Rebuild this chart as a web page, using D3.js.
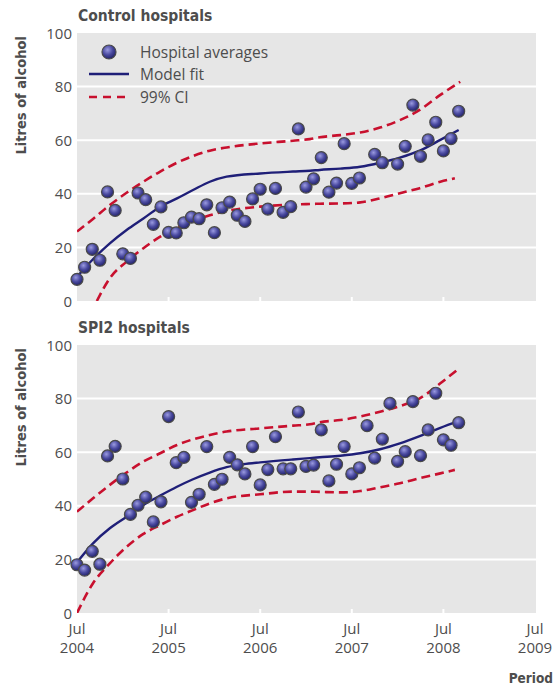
<!DOCTYPE html>
<html>
<head>
<meta charset="utf-8">
<script src="https://cdn.jsdelivr.net/npm/d3@7"></script>
<style>
  body { margin: 0; background: #fff; }
  svg text { fill: #4d4d4d; }
</style>
</head>
<body>
<div id="chart"></div>
<script>
// months counted from Jul 2004
const tickMonths = [0, 12, 24, 36, 48, 60];
const tickYears = ["2004", "2005", "2006", "2007", "2008", "2009"];
const yTicks = [0, 20, 40, 60, 80, 100];

// monthly hospital averages (null = no point shown)
const controlAvg = [8.1, 12.6, 19.3, 15.2, 40.7, 33.8, 17.6, 15.9, 40.3, 37.8,
  28.6, 35.1, 25.6, 25.4, 29.2, 31.3, 30.7, 35.9, 25.5, 34.8,
  36.9, 32.0, 29.7, 38.1, 41.7, 34.3, 42.0, 33.1, 35.2, 64.2,
  42.5, 45.6, 53.5, 40.6, 44.0, 58.7, 43.9, 45.9, null, 54.7,
  51.6, null, 51.1, 57.7, 73.1, 54.0, 60.1, 66.7, 56.0, 60.6, 70.8];
const spi2Avg = [18.0, 16.0, 23.0, 18.2, 58.6, 62.2, 50.0, 36.8, 40.2, 43.2,
  34.0, 41.5, 73.3, 56.1, 58.1, 41.3, 44.3, 62.1, 48.0, 49.9,
  58.1, 55.3, 51.9, 62.1, 47.8, 53.5, 65.8, 53.8, 53.8, 75.0,
  54.7, 55.2, 68.3, 49.3, 55.5, 62.1, 51.9, 54.2, 69.9, 57.8,
  64.9, 78.2, 56.6, 60.2, 78.9, 58.7, 68.3, 82.0, 64.6, 62.6, 71.0];

// model fit and 99% CI as [month, value]
const controlFit = [[0, 9], [2, 15.3], [4.3, 21.5], [6.5, 26.5], [8.7, 30.8], [10.9, 35.2], [13.1, 38.3],
  [15.2, 41.4], [17.4, 44.5], [19.6, 46.4], [24, 47.6], [28.3, 48.3], [30.5, 48.6], [31.8, 48.9],
  [34.5, 49.4], [37.1, 50.1], [39.7, 51.6], [42.3, 53.5], [44.9, 56.1], [47.6, 60.1], [50, 63.8]];
const controlUpper = [[0, 25.9], [2.1, 30.6], [4.3, 35.8], [6.5, 40.4], [8.7, 44.5], [10.9, 48.3], [13.1, 51.6],
  [15.2, 54.1], [17.4, 56.1], [19.6, 57.3], [24, 58.8], [28.3, 59.8], [30.5, 60.4], [31.8, 61.1],
  [34.5, 61.9], [37.1, 62.9], [39.7, 64.7], [42.3, 67.5], [44.9, 71.3], [47.6, 76.9], [50.2, 81.8]];
const controlLower = [[2.6, 0], [4.3, 8.5], [6.5, 14.7], [8.7, 19.7], [10.9, 24.0], [13.1, 27.1],
  [15.2, 29.9], [17.4, 32.0], [19.6, 33.6], [24, 35.2], [28.3, 36.0], [30.5, 36.2], [31.8, 36.3],
  [34.5, 36.4], [37.1, 36.8], [39.7, 38.3], [42.3, 40.2], [44.9, 42.1], [47.6, 44.5], [49.5, 45.8]];

const spi2Fit = [[0, 18.9], [2.1, 26.0], [4.3, 31.6], [6.5, 35.9], [8.7, 40.3], [10.9, 43.8], [13.1, 47.1],
  [15.2, 49.9], [17.4, 52.4], [19.6, 54.4], [21.8, 55.5], [24, 56.2], [28.3, 57.3], [30.5, 57.8],
  [31.8, 58.1], [34.5, 58.7], [37.1, 59.6], [39.7, 61.1], [42.3, 63.3], [44.9, 66.0], [47.6, 69.1], [50, 71.6]];
const spi2Upper = [[0, 37.8], [2.1, 42.8], [4.3, 47.8], [6.5, 52.4], [8.7, 56.5], [10.9, 59.6], [13.1, 62.7],
  [15.2, 64.8], [17.4, 66.4], [19.6, 67.7], [24, 68.9], [28.3, 69.9], [30.5, 70.4], [31.8, 71.2],
  [34.5, 72.0], [37.1, 73.3], [39.7, 75.1], [42.3, 77.2], [44.9, 80.1], [47.6, 85.7], [49.8, 90.7]];
const spi2Lower = [[0, 0], [2.1, 11.1], [4.3, 18.5], [6.5, 24.7], [8.7, 29.5], [10.9, 32.8], [13.1, 35.9],
  [15.2, 38.4], [17.4, 40.9], [19.6, 42.8], [24, 44.3], [28.3, 45.3], [30.5, 45.3], [31.8, 45.2],
  [34.5, 45.0], [37.1, 45.5], [39.7, 46.9], [42.3, 48.4], [44.9, 50.3], [47.6, 52.1], [49.5, 53.4]];

const panels = [
  { title: "Control hospitals", top: 33, avg: controlAvg, fit: controlFit, upper: controlUpper, lower: controlLower, legend: true },
  { title: "SPI2 hospitals", top: 345, avg: spi2Avg, fit: spi2Fit, upper: spi2Upper, lower: spi2Lower, legend: false }
];

const width = 555, height = 688;
const left = 77, right = 536, plotH = 268;
const blue = "#1f1f78", red = "#c8102e";
const labelFont = "'Open Sans', 'Noto Sans', sans-serif";
const boldFont = "'DejaVu Sans Condensed', 'DejaVu Sans', sans-serif";

const svg = d3.select("#chart").append("svg")
  .attr("width", width)
  .attr("height", height);

// shiny sphere for the points
const grad = svg.append("defs").append("radialGradient")
  .attr("id", "ball").attr("cx", "40%").attr("cy", "35%").attr("r", "65%");
grad.append("stop").attr("offset", "0%").attr("stop-color", "#9a9ae0");
grad.append("stop").attr("offset", "55%").attr("stop-color", "#4a4aa0");
grad.append("stop").attr("offset", "100%").attr("stop-color", "#23236a");

const x = d3.scaleLinear().domain([0, 60]).range([left, 535]);

panels.forEach(function (p, i) {
  const y = d3.scaleLinear().domain([0, 100]).range([p.top + plotH, p.top]);
  const g = svg.append("g");

  svg.select("defs").append("clipPath").attr("id", "clip" + i)
    .append("rect").attr("x", left).attr("y", p.top).attr("width", right - left).attr("height", plotH);

  g.append("rect")
    .attr("x", left).attr("y", p.top)
    .attr("width", right - left).attr("height", plotH)
    .attr("fill", "#e6e6e6");

  // white gridlines
  g.selectAll(".grid")
    .data(yTicks.filter(d => d > 0 && d < 100))
    .enter().append("line")
    .attr("x1", left).attr("x2", right)
    .attr("y1", d => y(d)).attr("y2", d => y(d))
    .attr("stroke", "#fff").attr("stroke-width", 2);

  // small white ticks at bottom
  g.selectAll(".xt")
    .data(tickMonths.slice(1, -1))
    .enter().append("line")
    .attr("x1", d => x(d)).attr("x2", d => x(d))
    .attr("y1", p.top + plotH).attr("y2", p.top + plotH - 4)
    .attr("stroke", "#fff").attr("stroke-width", 2);

  // y tick labels
  g.selectAll(".yl")
    .data(yTicks)
    .enter().append("text")
    .attr("x", 72).attr("y", d => y(d) + 5.5)
    .attr("text-anchor", "end")
    .style("font-family", labelFont).style("font-size", "15px")
    .text(d => d);

  g.append("text")
    .attr("x", left + 1).attr("y", p.top - 12)
    .style("font-family", boldFont).style("font-size", "15.5px").style("font-weight", "bold")
    .text(p.title);

  g.append("text")
    .attr("transform", "translate(26," + (p.top + 3) + ") rotate(-90)")
    .attr("text-anchor", "end")
    .style("font-family", boldFont).style("font-size", "14.5px").style("font-weight", "bold")
    .text("Litres of alcohol");

  const line = d3.line()
    .x(d => x(d[0]))
    .y(d => y(d[1]))
    .curve(d3.curveMonotoneX);

  const curves = g.append("g").attr("clip-path", "url(#clip" + i + ")");
  [p.upper, p.lower].forEach(function (ci) {
    curves.append("path")
      .datum(ci)
      .attr("fill", "none")
      .attr("stroke", red)
      .attr("stroke-width", 2.6)
      .attr("stroke-dasharray", "9,5")
      .attr("d", line);
  });
  curves.append("path")
    .datum(p.fit)
    .attr("fill", "none")
    .attr("stroke", blue)
    .attr("stroke-width", 2.4)
    .attr("d", line);

  g.append("g").selectAll("circle")
    .data(p.avg.map((v, k) => [k, v]).filter(d => d[1] !== null))
    .enter().append("circle")
    .attr("cx", d => x(d[0]))
    .attr("cy", d => y(d[1]))
    .attr("r", 6)
    .attr("fill", "url(#ball)")
    .attr("stroke", "#4a4a4a")
    .attr("stroke-width", 1.2);

  if (p.legend) {
    const lg = g.append("g");
    lg.append("circle").attr("cx", 109).attr("cy", 52).attr("r", 7)
      .attr("fill", "url(#ball)").attr("stroke", "#4a4a4a").attr("stroke-width", 1.2);
    lg.append("line").attr("x1", 89).attr("x2", 129).attr("y1", 74).attr("y2", 74)
      .attr("stroke", blue).attr("stroke-width", 2.4);
    lg.append("line").attr("x1", 89).attr("x2", 129).attr("y1", 97).attr("y2", 97)
      .attr("stroke", red).attr("stroke-width", 2.6).attr("stroke-dasharray", "8,6");
    ["Hospital averages", "Model fit", "99% CI"].forEach(function (t, j) {
      lg.append("text")
        .attr("x", 140).attr("y", 57.5 + j * 22.5)
        .style("font-family", labelFont).style("font-size", "15.5px")
        .text(t);
    });
  }
});

// x axis labels under the lower panel
const xl = svg.append("g").selectAll("g")
  .data(tickMonths)
  .enter().append("g");
xl.append("text")
  .attr("x", d => x(d)).attr("y", 634)
  .attr("text-anchor", "middle")
  .style("font-family", labelFont).style("font-size", "15px")
  .text("Jul");
xl.append("text")
  .attr("x", (d, k) => x(d)).attr("y", 653)
  .attr("text-anchor", "middle")
  .style("font-family", labelFont).style("font-size", "15px")
  .text((d, k) => tickYears[k]);

svg.append("text")
  .attr("x", 553).attr("y", 683)
  .attr("text-anchor", "end")
  .style("font-family", boldFont).style("font-size", "13.5px").style("font-weight", "bold")
  .text("Period");
</script>
</body>
</html>
